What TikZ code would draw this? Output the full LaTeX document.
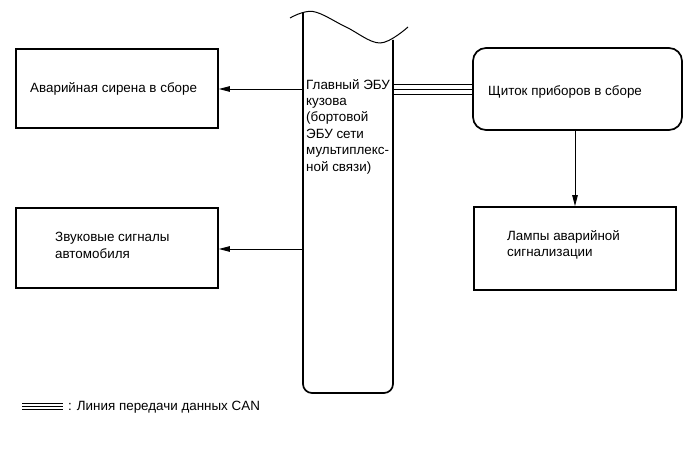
\documentclass[tikz,border=0pt]{standalone}
\usepackage{fontspec}
\setmainfont{Liberation Sans}
\usetikzlibrary{arrows.meta}
\begin{document}
\begin{tikzpicture}[x=1bp,y=-1bp,
  font=\fontsize{13.4bp}{16.4bp}\selectfont,
  boxnode/.style={draw,line width=1.7bp,inner sep=0pt},
  txt/.style={anchor=west,inner sep=0pt,align=left},
  arr/.style={line width=0.9bp,-{Triangle[length=11bp,width=5.5bp]}},
  canline/.style={line width=1.3bp}]
\useasboundingbox (0,0) rectangle (691,465);
% boxes
\node[boxnode,minimum width=202bp,minimum height=79bp] (box1) at (117,88.5) {};
\node[boxnode,minimum width=202bp,minimum height=80bp] (box2) at (117,248) {};
\node[boxnode,rounded corners=13bp,minimum width=209bp,minimum height=82bp] (box3) at (577.5,89) {};
\node[boxnode,minimum width=202bp,minimum height=83bp] (box4) at (575,248.5) {};
\node[inner sep=0pt,minimum width=90bp,minimum height=380bp] (ecu) at (348,203) {};
% ECU outline
\draw[line width=1.7bp,rounded corners=9bp] (303,13) -- (303,393) -- (393,393) -- (393,40);
\draw[line width=1bp] plot[smooth,tension=0.6] coordinates {(290,18) (313,11.5) (346,27) (380,43) (408,27)};
% texts
\node[txt] (t1) at (30,89) {Аварийная сирена в сборе};
\node[txt] (t2) at (55,245.5) {Звуковые сигналы\\автомобиля};
\node[txt] (t3) at (488,92) {Щиток приборов в сборе};
\node[txt] (t4) at (507,245) {Лампы аварийной\\сигнализации};
\node[txt,anchor=north west] (tecu) at (306,79) {Главный ЭБУ\\кузова\\(бортовой\\ЭБУ сети\\мультиплекс-\\ной связи)};
% connectors
\coordinate (ya) at (0,89);
\coordinate (yb) at (0,249);
\draw[arr] (ecu.west |- ya) -- (box1.east |- ya);
\draw[arr] (ecu.west |- yb) -- (box2.east |- yb);
\draw[arr] (box4.north |- box3.south) -- (box4.north);
% CAN lines
\foreach \yy in {84.3,89.2,94.3}{
  \coordinate (cy) at (0,\yy);
  \draw[canline] (ecu.east |- cy) -- (box3.west |- cy);
}
% legend
\foreach \yy in {403.5,406.5,409.5}{
  \draw[canline] (22,\yy) -- (63,\yy);
}
\node[txt] (tleg) at (68,407) {: Линия передачи данных CAN};
\end{tikzpicture}
\end{document}
